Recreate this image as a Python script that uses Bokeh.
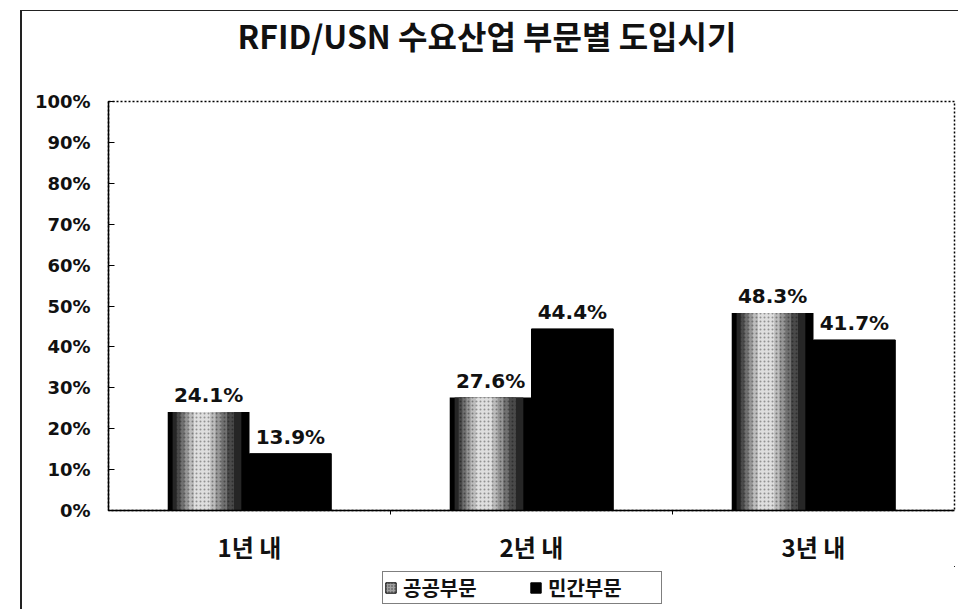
from bokeh.plotting import figure
from bokeh.models import (FixedTicker, PrintfTickFormatter, Legend, LegendItem, Range1d)
from bokeh.layouts import column
from bokeh.core.properties import value
from bokeh.embed import file_html
from bokeh.resources import INLINE

# ---- data ----
title_text = "RFID/USN 수요산업 부문별 도입시기"
categories = ["1년 내", "2년 내", "3년 내"]
series_names = ["공공부문", "민간부문"]
public_vals = [24.1, 27.6, 48.3]
private_vals = [13.9, 44.4, 41.7]
y_ticks = [0, 10, 20, 30, 40, 50, 60, 70, 80, 90, 100]

# ---- geometry / style ----
BAR_W = 0.29
centers = [i + 0.5 for i in range(len(categories))]
gx = [c - BAR_W / 2 for c in centers]
bx = [c + BAR_W / 2 for c in centers]
pub_labels = [f"{v:.1f}%" for v in public_vals]
priv_labels = [f"{v:.1f}%" for v in private_vals]

NUM = value("DejaVu Sans")
KR = value("Noto Sans CJK KR")
FIG_W = 936
FRAME_W = FIG_W - 86 - 4   # frames of the column's figures are aligned

# ---- title strip ----
TITLE_H = 60
p0 = figure(width=FIG_W, height=TITLE_H, output_backend="svg", toolbar_location=None,
            x_axis_type=None, y_axis_type=None, min_border=0,
            x_range=Range1d(0, FRAME_W), y_range=Range1d(0, TITLE_H))
p0.grid.visible = False
p0.outline_line_color = None
p0.text(x=[129], y=[37], text=[title_text], text_align="left",
        text_baseline="middle", text_font=KR, text_font_style="bold",
        text_font_size="32px", text_color="#111111")

# ---- main chart ----
p = figure(width=FIG_W, height=495, x_range=Range1d(0, len(categories)),
           y_range=Range1d(0, 100), output_backend="svg", toolbar_location=None,
           min_border_left=86, min_border_right=4, min_border_top=30,
           min_border_bottom=55)

# gray "gradient" bars built from nested layers
layers = [(0.0, 1.0, "#000000", None),
          (-0.02, 0.84, "#262626", None),
          (-0.04, 0.70, "#4a4a4a", "dot"),
          (-0.06, 0.57, "#707070", "dot"),
          (-0.07, 0.45, "#969696", "dot"),
          (-0.08, 0.33, "#bcbcbc", "dot"),
          (-0.08, 0.20, "#dedede", "dot")]
for off, frac, col, hatch in layers:
    xs = [x + off * BAR_W for x in gx]
    kw = {}
    if hatch:
        kw = dict(hatch_pattern=hatch, hatch_color="#000000", hatch_alpha=0.35,
                  hatch_scale=4)
    p.vbar(x=xs, top=public_vals, bottom=0, width=BAR_W * frac,
           fill_color=col, line_color=None, **kw)

p.vbar(x=bx, top=private_vals, bottom=0, width=BAR_W,
       fill_color="#000000", line_color="#000000")

p.text(x=gx, y=public_vals, text=pub_labels, text_align="center",
       text_baseline="bottom", y_offset=-5, text_font=NUM,
       text_font_style="bold", text_font_size="20px", text_color="#111111")
p.text(x=bx, y=private_vals, text=priv_labels, text_align="center",
       text_baseline="bottom", y_offset=-5, text_font=NUM,
       text_font_style="bold", text_font_size="20px", text_color="#111111")

p.xgrid.visible = False
p.ygrid.visible = False
p.outline_line_color = "#000000"
p.outline_line_width = 1.5
p.outline_line_dash = "2 2"

p.yaxis.ticker = FixedTicker(ticks=y_ticks)
p.yaxis.formatter = PrintfTickFormatter(format="%d%%")
p.yaxis.major_tick_in = 6
p.yaxis.major_tick_out = 0
p.yaxis.minor_tick_in = 0
p.yaxis.minor_tick_out = 0
p.yaxis.axis_line_width = 1.5
p.yaxis.axis_line_color = "#000000"
p.yaxis.major_tick_line_color = "#000000"
p.yaxis.major_label_text_font = "DejaVu Sans"
p.yaxis.major_label_text_font_style = "bold"
p.yaxis.major_label_text_font_size = "18px"
p.yaxis.major_label_text_color = "#111111"
p.yaxis.major_label_standoff = 18

p.xaxis.ticker = FixedTicker(ticks=centers, minor_ticks=[1, 2])
p.xaxis.major_label_overrides = {c: lab for c, lab in zip(centers, categories)}
p.xaxis.major_tick_in = 0
p.xaxis.major_tick_out = 0
p.xaxis.minor_tick_in = 0
p.xaxis.minor_tick_out = 4
p.xaxis.axis_line_width = 1.5
p.xaxis.axis_line_color = "#000000"
p.xaxis.major_label_text_font = "Noto Sans CJK KR"
p.xaxis.major_label_text_font_style = "bold"
p.xaxis.major_label_text_font_size = "24px"
p.xaxis.major_label_text_color = "#111111"
p.xaxis.major_label_standoff = 14

# ---- legend strip (separate small figure; its bars lie outside its view) ----
LEG_H = 43
p2 = figure(width=FIG_W, height=LEG_H, output_backend="svg", toolbar_location=None,
            x_axis_type=None, y_axis_type=None, min_border=0,
            x_range=Range1d(-20, -10), y_range=Range1d(-20, -10))
p2.grid.visible = False
p2.outline_line_color = None
r_pub = p2.vbar(x=gx, top=public_vals, width=BAR_W, fill_color="#a0a0a0",
                line_color="#000000", line_width=1,
                hatch_pattern="dot", hatch_color="#000000", hatch_alpha=0.6,
                hatch_scale=3)
r_priv = p2.vbar(x=bx, top=private_vals, width=BAR_W, fill_color="#000000",
                 line_color="#000000")

legend = Legend(items=[LegendItem(label=series_names[0], renderers=[r_pub], index=0),
                       LegendItem(label=series_names[1], renderers=[r_priv], index=0)],
                orientation="horizontal", location=(274, 5))
legend.border_line_color = "#000000"
legend.border_line_width = 1.5
legend.padding = 1
legend.spacing = 14
legend.margin = 0
legend.glyph_width = 13
legend.glyph_height = 13
legend.label_standoff = 6
legend.label_width = 112
legend.label_text_font = "Noto Sans CJK KR"
legend.label_text_font_style = "bold"
legend.label_text_font_size = "20px"
legend.label_text_color = "#111111"
p2.add_layout(legend, "center")

layout = column(p0, p, p2, spacing=0, margin=(10, 0, 0, 20),
                styles={"border-left": "2px solid #222222",
                        "border-top": "1px solid #222222"})

open("out.html", "w").write(file_html(layout, INLINE))
